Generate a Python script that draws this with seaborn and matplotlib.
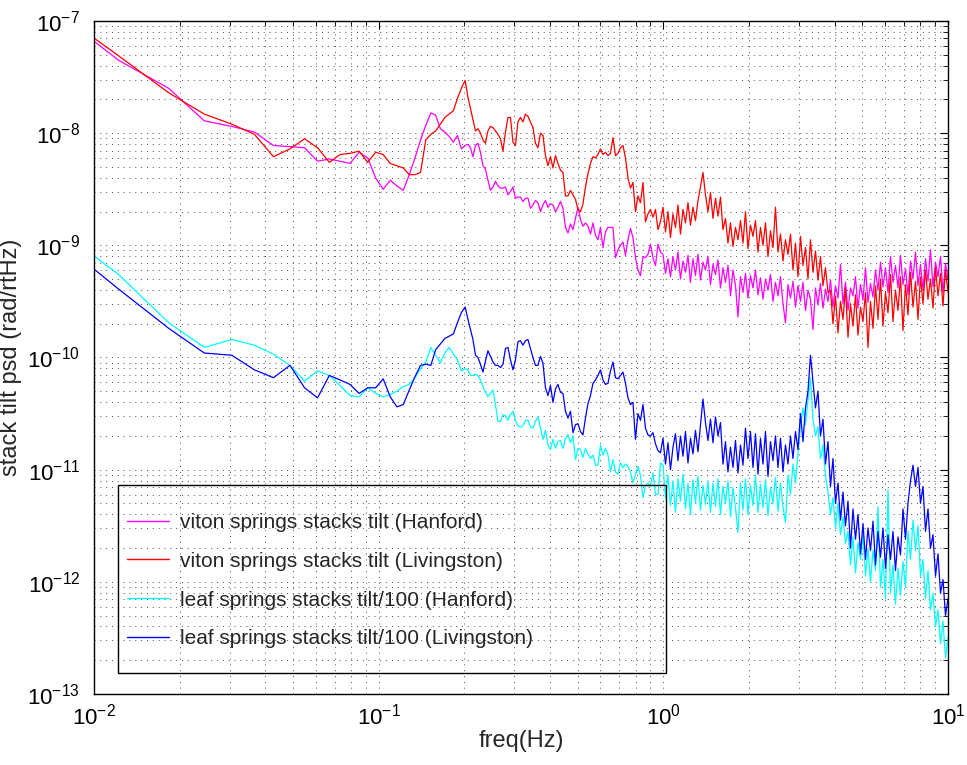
import numpy as np
import pandas as pd
import matplotlib
matplotlib.use("Agg")
import matplotlib.pyplot as plt
import seaborn as sns
from matplotlib.lines import Line2D
from matplotlib.patches import Rectangle
from matplotlib.ticker import LogLocator, NullFormatter

# ---------------- data (log10 of psd, rad/rtHz) ----------------
bin_width_hz = 0.0061           # PSD bin spacing of the low-frequency part
low_bins = list(range(1, 34))   # bins 1..33 drawn point by point
dense_start_hz = 0.2059         # denser read-out from here to 10 Hz
dense_stop_hz = 10.0

labels = [
    "viton springs stacks tilt (Hanford)",
    "viton springs stacks tilt (Livingston)",
    "leaf springs stacks tilt/100 (Hanford)",
    "leaf springs stacks tilt/100 (Livingston)",
]
colors = ["#ff00ff", "#ff0000", "#00ffff", "#0000ff"]

viton_hanford_low = [-6.76, -7.35, -7.60, -7.89, -7.94, -7.99, -8.11, -8.12, -8.13, -8.25, -8.23,
                     -8.25, -8.27, -8.17, -8.22, -8.40, -8.50, -8.42, -8.47, -8.51, -8.37, -8.22,
                     -8.06, -7.93, -7.82, -7.84, -7.96, -7.99, -8.03, -8.08, -8.02, -8.14, -8.11]
viton_livingston_low = [-6.76, -7.31, -7.64, -7.83, -7.92, -8.01, -8.21, -8.14, -8.05, -8.13, -8.26,
                        -8.19, -8.18, -8.16, -8.26, -8.17, -8.19, -8.27, -8.29, -8.31, -8.37, -8.37,
                        -8.35, -8.06, -8.01, -7.98, -7.92, -7.86, -7.83, -7.80, -7.69, -7.60, -7.53]
leaf_hanford_low = [-8.68, -9.26, -9.69, -9.91, -9.84, -9.89, -9.97, -10.07, -10.21, -10.12, -10.16,
                    -10.25, -10.34, -10.35, -10.27, -10.32, -10.35, -10.33, -10.30, -10.26, -10.24,
                    -10.18, -10.10, -10.04, -9.91, -9.98, -10.05, -9.96, -9.91, -9.97, -10.02,
                    -10.12, -10.10]
leaf_livingston_low = [-8.77, -9.39, -9.74, -9.96, -9.98, -10.11, -10.18, -10.07, -10.27, -10.36,
                       -10.16, -10.20, -10.24, -10.32, -10.27, -10.27, -10.19, -10.35, -10.44,
                       -10.42, -10.29, -10.17, -10.07, -10.06, -10.07, -9.93, -9.88, -9.83, -9.81,
                       -9.79, -9.69, -9.60, -9.55]

viton_hanford_high = [
    -8.10, -8.13, -8.21, -8.11, -8.09, -8.17, -8.29, -8.32, -8.42, -8.51, -8.48, -8.43, -8.47,
    -8.49, -8.49, -8.48, -8.55, -8.52, -8.48, -8.58, -8.57, -8.57, -8.61, -8.58, -8.58, -8.67,
    -8.64, -8.60, -8.62, -8.70, -8.64, -8.60, -8.66, -8.63, -8.64, -8.70, -8.66, -8.61, -8.67,
    -8.84, -8.89, -8.81, -8.86, -8.76, -8.66, -8.77, -8.83, -8.80, -8.83, -8.90, -8.80, -8.91,
    -8.95, -8.84, -9.02, -8.88, -8.84, -8.84, -8.84, -9.11, -9.04, -9.00, -8.97, -9.09, -8.95,
    -8.85, -8.93, -9.11, -9.22, -9.27, -9.10, -9.11, -9.08, -8.99, -9.11, -9.18, -8.99, -9.06,
    -9.08, -9.25, -9.12, -9.28, -9.10, -9.22, -9.06, -9.30,
    -9.14, -9.24, -9.09, -9.33, -9.12, -9.27, -9.08, -9.31, -9.15, -9.22, -9.10, -9.35, -9.17,
    -9.26, -9.13, -9.38,
    -9.20, -9.33, -9.18, -9.45, -9.22, -9.36, -9.64, -9.28, -9.42, -9.25, -9.47, -9.27, -9.38,
    -9.22, -9.44,
    -9.29, -9.48, -9.30, -9.40, -9.26, -9.50, -9.33, -9.45, -9.28, -9.52, -9.69, -9.35,
    -9.47, -9.32, -9.55, -9.36, -9.50, -9.33, -9.58, -9.40, -9.48, -9.75, -9.38, -9.53, -9.34,
    -9.56, -9.39, -9.50,
    -9.31, -9.55, -9.36, -9.47, -9.17, -9.52, -9.33, -9.58, -9.38, -9.45, -9.28, -9.56, -9.35,
    -9.49, -9.20, -9.51, -9.34, -9.46,
    -9.22, -9.40, -9.15, -9.37, -9.20, -9.42, -9.10, -9.33, -9.18, -9.38, -9.09, -9.35, -9.21,
    -9.44, -9.14, -9.30, -9.06, -9.36, -9.17, -9.40, -9.12, -9.32, -9.04, -9.37, -9.15, -9.28,
    -9.10, -9.42, -9.16, -9.30,
]
viton_livingston_high = [
    -7.68, -7.78, -7.88, -7.98, -7.96, -8.00, -8.06, -8.09, -7.98, -7.94, -7.95, -7.98, -8.01,
    -8.05, -8.16, -7.99, -7.86, -7.86, -8.08, -8.11, -7.90, -7.86, -7.90, -7.83, -7.85, -7.90,
    -7.95, -8.09, -8.13, -8.00, -8.02, -8.20, -8.29, -8.21, -8.31, -8.20, -8.27, -8.33, -8.35,
    -8.56, -8.56, -8.51, -8.55, -8.59, -8.68, -8.70, -8.63, -8.48, -8.36, -8.27, -8.21, -8.22,
    -8.19, -8.14, -8.19, -8.17, -8.20, -8.18, -8.04, -8.20, -8.18, -8.13, -8.11, -8.22, -8.40,
    -8.49, -8.44, -8.70, -8.56, -8.62, -8.44, -8.79, -8.72, -8.68, -8.75, -8.68, -8.86, -8.79,
    -8.66, -8.88, -8.70, -8.93, -8.72, -8.84, -8.64, -8.90,
    -8.68, -8.80, -8.62, -8.82, -8.66, -8.78, -8.60,
    -8.48, -8.35, -8.55,
    -8.70, -8.53, -8.76, -8.58, -8.74, -8.57,
    -8.86, -8.76, -8.98, -8.80, -9.01, -8.84, -8.95, -8.78,
    -8.98, -8.70, -9.03, -8.82, -8.92,
    -8.78, -9.06, -8.84, -9.00, -8.80, -9.10, -8.87, -9.02, -8.66,
    -9.06, -8.90, -9.14, -8.95, -9.08,
    -8.90, -9.22, -8.98, -9.28, -8.92, -9.18, -9.02, -9.30, -8.95, -9.24, -9.05, -9.31, -9.10,
    -9.36, -9.20, -9.42,
    -9.40, -9.70, -9.45, -9.78, -9.50, -9.66, -9.38, -9.82, -9.52, -9.72, -9.44, -9.80, -9.55,
    -9.68, -9.42, -9.91, -9.50, -9.74,
    -9.36, -9.66, -9.30, -9.72, -9.42, -9.60, -9.26, -9.68, -9.40, -9.58, -9.28, -9.76, -9.35,
    -9.62, -9.24, -9.55, -9.32, -9.66,
    -9.28, -9.52, -9.22, -9.48, -9.30, -9.56, -9.20, -9.45, -9.25, -9.54, -9.22, -9.42,
]
leaf_hanford_high = [
    -10.11, -10.16, -10.16, -10.15, -10.16, -10.20, -10.26, -10.31, -10.35, -10.32, -10.29,
    -10.42, -10.57, -10.57, -10.51, -10.52, -10.56, -10.51, -10.48, -10.56, -10.61, -10.62,
    -10.61, -10.56, -10.56, -10.62, -10.63, -10.57, -10.53, -10.63, -10.73, -10.65, -10.78,
    -10.82, -10.73, -10.81, -10.75, -10.74, -10.81, -10.72, -10.69, -10.76, -10.70, -10.91,
    -10.81, -10.82, -10.89, -10.81, -10.86, -10.90, -10.87, -10.96, -10.96, -10.78, -10.87,
    -10.81, -10.87, -11.02, -10.91, -11.02, -11.04, -10.94, -10.98, -10.95, -10.97, -11.02,
    -11.12, -11.04, -10.97, -11.05, -11.25, -11.14, -11.12, -11.15, -11.03, -11.22, -11.22,
    -10.94,
    -10.96, -11.25,
    -11.05, -11.32, -11.10, -11.38, -11.08, -11.28, -11.04, -11.35, -11.12, -11.40, -11.09,
    -11.30, -11.06, -11.36, -11.14, -11.31,
    -11.10, -11.38, -11.12, -11.33, -11.08, -11.40, -11.15, -11.30, -11.10, -11.42, -11.16,
    -11.34, -11.56,
    -11.12, -11.36, -11.08, -11.40, -11.14, -11.32, -11.05, -11.38, -11.13, -11.34, -11.09,
    -11.41, -11.16, -11.30, -11.07, -11.37, -11.12, -11.33, -11.47,
    -11.05, -11.22, -10.95, -11.12, -10.85,
    -10.62, -10.45, -10.60, -10.38, -10.18,
    -10.55, -10.70, -10.62, -10.90, -10.78, -11.05,
    -11.20, -11.40, -11.25, -11.52, -11.30, -11.58, -11.42,
    -11.66, -11.55, -11.85, -11.60, -11.92, -11.65, -11.80, -11.58, -11.95, -11.70, -12.00,
    -11.72,
    -11.90, -11.33, -12.05, -11.80, -12.15, -11.18, -12.10, -11.85, -12.20, -11.88, -12.12,
    -11.82, -12.05,
    -11.55, -11.80, -11.45, -11.72, -11.50,
    -11.95, -11.80, -12.15, -11.90, -12.25,
    -12.10, -12.40, -12.25, -12.55, -12.35, -12.68, -12.50,
]
leaf_livingston_high = [
    -9.66, -9.75, -9.84, -9.98, -10.00, -10.06, -10.13, -10.03, -9.94, -9.99, -10.04, -10.07,
    -10.07, -10.09, -10.06, -9.92, -9.91, -10.02, -10.11, -10.02, -9.86, -9.85, -9.89, -9.85,
    -9.84, -9.92, -10.00, -10.07, -10.07, -9.99, -10.05, -10.27, -10.34, -10.25, -10.40,
    -10.28, -10.24, -10.31, -10.32, -10.48, -10.54, -10.48, -10.67, -10.60, -10.59, -10.66,
    -10.69, -10.54, -10.41, -10.34, -10.23, -10.20, -10.16, -10.11, -10.20, -10.24, -10.23,
    -10.12, -10.04, -10.18, -10.19, -10.16, -10.13, -10.23, -10.36, -10.42, -10.40, -10.73,
    -10.50, -10.56, -10.42, -10.63, -10.69, -10.70, -10.67, -10.77, -10.83, -10.85,
    -10.72, -10.95, -10.76, -11.00, -10.80,
    -10.68, -10.92, -10.70, -10.88, -10.66, -10.94, -10.72, -10.86, -10.65, -10.84,
    -10.60, -10.37, -10.58,
    -10.74, -10.55, -10.76, -10.53, -10.70, -10.58,
    -10.95, -10.75, -11.02, -10.80, -10.98, -10.74, -11.03, -10.78,
    -10.96, -10.63, -10.90, -10.66, -10.98,
    -10.68, -11.04, -10.72, -10.95, -10.66, -11.06, -10.75, -10.92, -10.70,
    -10.98, -10.72, -11.02, -10.78, -10.95, -10.70, -10.90, -10.66, -10.82,
    -10.50, -10.75, -10.45,
    -10.30, -9.98, -10.22,
    -10.45, -10.30, -10.70, -10.55,
    -10.95, -10.75, -11.15, -10.90,
    -11.30, -11.12, -11.45, -11.20,
    -11.50, -11.28, -11.70, -11.35, -11.62, -11.40, -11.75,
    -11.48, -11.80, -11.52, -11.72, -11.46, -11.85, -11.55, -11.78,
    -11.52, -11.88, -11.58, -11.80, -11.55, -11.90, -11.60, -11.76,
    -11.35, -11.62, -11.30,
    -11.10, -10.96, -11.15, -10.98,
    -11.30, -11.15, -11.55, -11.35,
    -11.70, -11.58, -11.95, -11.75,
    -12.10, -11.98, -12.30, -12.15,
]

series_low = [viton_hanford_low, viton_livingston_low, leaf_hanford_low, leaf_livingston_low]
series_high = [viton_hanford_high, viton_livingston_high, leaf_hanford_high, leaf_livingston_high]

frames = []
for lab, lo, hi in zip(labels, series_low, series_high):
    f_lo = bin_width_hz * np.array(low_bins[:len(lo)], dtype=float)
    f_hi = np.geomspace(dense_start_hz, dense_stop_hz, len(hi))
    freq = np.concatenate([f_lo, f_hi])
    psd = 10.0 ** np.array(lo + hi)
    frames.append(pd.DataFrame({"freq": freq, "psd": psd, "series": lab}))
df = pd.concat(frames, ignore_index=True)

# ---------------- style ----------------
sns.set_style("white")
plt.rcParams["font.family"] = ["Liberation Sans", "DejaVu Sans"]
plt.rcParams["mathtext.default"] = "regular"

fig = plt.figure(figsize=(9.67, 7.65), dpi=100)
ax = fig.add_axes([0.09721, 0.09281, 0.88314, 0.87974])

sns.lineplot(data=df, x="freq", y="psd", hue="series", hue_order=labels,
             palette=dict(zip(labels, colors)), estimator=None, sort=False,
             units="series", linewidth=0.9, legend=False, ax=ax)

ax.set_xscale("log")
ax.set_yscale("log")
ax.set_xlim(1e-2, 1e1)
ax.set_ylim(1e-13, 1e-7)

for axis in (ax.xaxis, ax.yaxis):
    axis.set_major_locator(LogLocator(base=10, numticks=20))
    axis.set_minor_locator(LogLocator(base=10, subs=np.arange(2, 10), numticks=200))
    axis.set_minor_formatter(NullFormatter())
    axis.get_offset_text().set_visible(False)

ax.grid(True, which="both", linestyle=(0, (1, 5)), linewidth=0.7, color="0.3")
ax.tick_params(which="both", direction="in", top=True, right=True, colors="black",
               labelsize=16)
ax.tick_params(which="major", length=6, width=0.8)
ax.tick_params(which="minor", length=3.5, width=0.6)
ax.tick_params(axis="y", pad=10)
ax.tick_params(axis="x", pad=7)
for sp in ax.spines.values():
    sp.set_color("black")
    sp.set_linewidth(1.0)

ax.set_xlabel("freq(Hz)", fontsize=17, labelpad=0)
ax.set_ylabel("stack tilt psd (rad/rtHz)", fontsize=17, labelpad=4)

handles = [Line2D([0], [0], color=c, lw=1.0) for c in colors]
ax.legend(handles, labels, loc="upper left", bbox_to_anchor=(0.0386, 0.2690),
          bbox_transform=ax.transAxes, frameon=False, fontsize=15,
          handlelength=2.0, handletextpad=0.55, labelspacing=0.95,
          borderpad=0.0, borderaxespad=0.0)
ax.add_patch(Rectangle((0.0281, 0.0312), 0.6417, 0.2793, transform=ax.transAxes,
                       fill=False, edgecolor="black", linewidth=1.0, zorder=5))

fig.savefig("out.png", dpi=100)
